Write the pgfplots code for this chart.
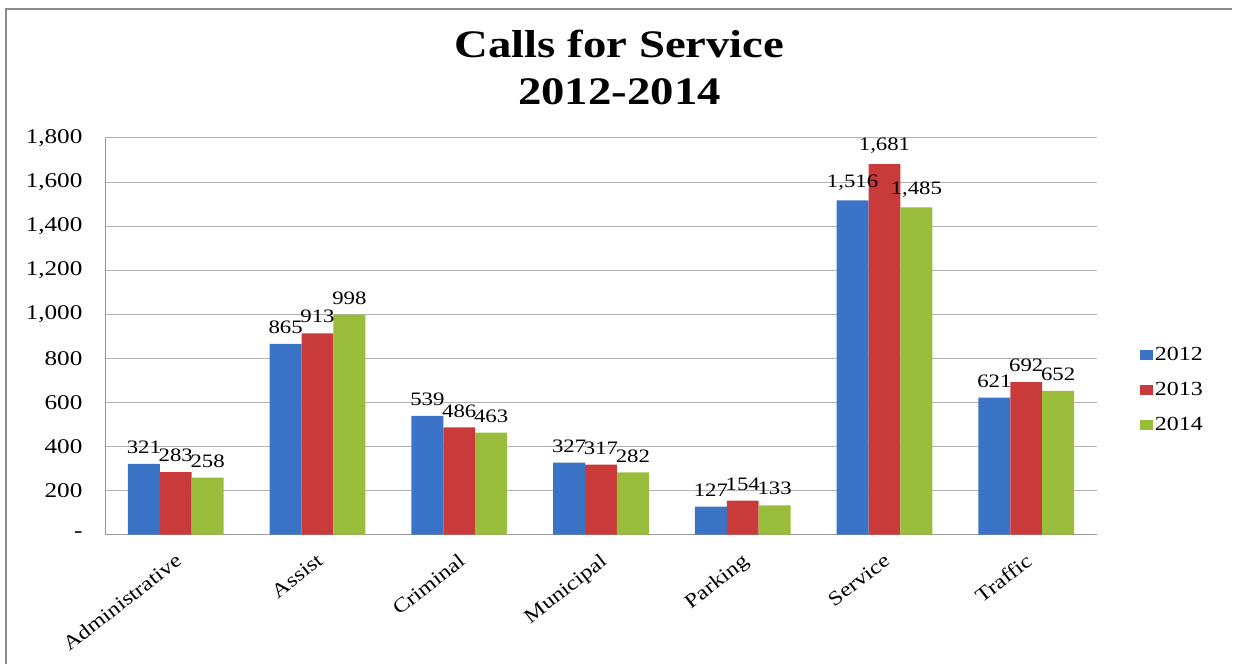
\documentclass[border=0pt]{standalone}
\usepackage{fontspec}
\setmainfont[FakeStretch=1.2]{Liberation Serif}
\usepackage{pgfplots}
\pgfplotsset{compat=1.18}

\definecolor{cblue}{HTML}{3B74C6}
\definecolor{cred}{HTML}{C93B3B}
\definecolor{cgreen}{HTML}{99BD3A}

\begin{document}
\begin{tikzpicture}
\path (-105bp,-130bp) rectangle (1128bp,535bp);
\draw[gray!90, line width=2bp] (-99bp,-130bp) -- (-99bp,526bp) -- (1128bp,526bp);
\node[font=\fontsize{39bp}{47bp}\selectfont\bfseries, align=center] at (515bp,467bp) {Calls for Service\\2012-2014};
\begin{axis}[
at={(0,0)}, anchor=south west,
scale only axis, width=993bp, height=397bp,
ybar=0pt, bar width=0.225,
xmin=-0.5, xmax=6.5,
ymin=0, ymax=1800,
xtick={0,...,6},
xticklabels={Administrative,Assist,Criminal,Municipal,Parking,Service,Traffic},
ytick={0,200,...,1800},
yticklabels={-,200,400,600,800,{1,000},{1,200},{1,400},{1,600},{1,800}},
major tick length=0pt,
axis x line*=bottom, axis y line*=left,
axis line style={gray!80, line width=0.8bp, -},
ymajorgrids, grid style={gray!60, line width=0.8bp},
tick label style={font=\fontsize{21bp}{24bp}\selectfont},
xticklabel style={font=\fontsize{20bp}{22bp}\selectfont, xshift=-1bp, yshift=-13bp, rotate=38, anchor=north east},
yticklabel style={xshift=-19bp},
/pgf/number format/assume math mode=true,
/pgf/number format/1000 sep={,},
nodes near coords,
nodes near coords style={font=\fontsize{19bp}{21bp}\selectfont, black, inner sep=3bp, yshift=7bp},
legend style={at={(1.04,0.365)}, anchor=west, draw=none, fill=none,
  font=\fontsize{20bp}{22bp}\selectfont, row sep=16bp},
legend image code/.code={\path[#1] (0bp,-5bp) rectangle (13bp,5bp);},
]
\addplot[draw=none, fill=cblue] coordinates {(0,321)(1,865)(2,539)(3,327)(4,127)(5,1516)(6,621)};
\addplot[draw=none, fill=cred] coordinates {(0,283)(1,913)(2,486)(3,317)(4,154)(5,1681)(6,692)};
\addplot[draw=none, fill=cgreen] coordinates {(0,258)(1,998)(2,463)(3,282)(4,133)(5,1485)(6,652)};
\legend{2012,2013,2014}
\end{axis}
\end{tikzpicture}
\end{document}
